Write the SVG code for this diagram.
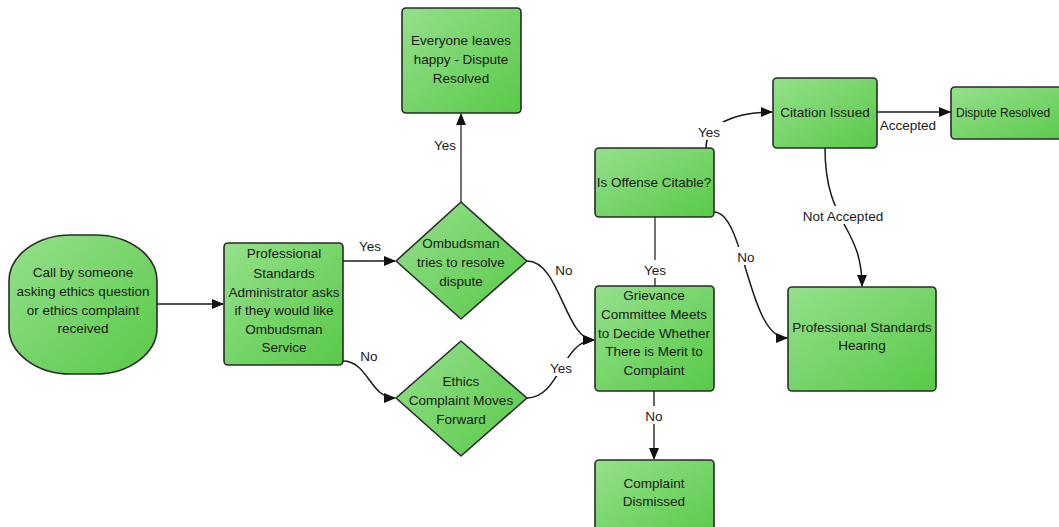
<svg xmlns="http://www.w3.org/2000/svg" width="1059" height="527" viewBox="0 0 1059 527">
<defs>
<linearGradient id="g" x1="0" y1="0" x2="1" y2="1">
<stop offset="0" stop-color="#95e08b"/>
<stop offset="1" stop-color="#58c948"/>
</linearGradient>
<marker id="arr" markerWidth="12" markerHeight="10" refX="11" refY="5" orient="auto" markerUnits="userSpaceOnUse">
<path d="M0,0 L12,5 L0,10 Z" fill="#111"/>
</marker>
<style>
.n{fill:url(#g);stroke:#2a2a2a;stroke-width:1.6}
.t{font-family:"Liberation Sans",Arial,sans-serif;font-size:13.5px;fill:#1a1a1a;text-anchor:middle}
.c{fill:none;stroke:#1a1a1a;stroke-width:1.5}
.a{marker-end:url(#arr)}
.lb{fill:#fff}
</style>
</defs>
<rect width="1059" height="527" fill="#fff"/>
<g id="connectors">
<path class="c a" d="M157,304 L223,304"/>
<path class="c a" d="M343,261 L395,261"/>
<path class="c a" d="M343,361 C368,361 370,398 395,398"/>
<path class="c a" d="M527,261 C560,261 565,340 594,340"/>
<path class="c a" d="M527,398 C560,398 562,340 594,340"/>
<path class="c a" d="M461,202 L461,114" style="stroke:#444"/>
<path class="c a" d="M654,391 L654,459" style="stroke:#333"/>
<path class="c" d="M655,217 L655,286" style="stroke:#444"/>
<path class="c a" d="M706,148 C706,124 735,112 772,112"/>
<path class="c a" d="M877,112 L950,112"/>
<path class="c a" d="M825,148 C825,225 862,225 862,286"/>
<path class="c a" d="M714,212 C745,212 748,338 787,338"/>
<rect class="lb" x="430" y="135" width="30" height="18"/>
<rect class="lb" x="640" y="406" width="28" height="18"/>
<rect class="lb" x="640" y="260" width="30" height="18"/>
<rect class="lb" x="694" y="122" width="30" height="18"/>
<rect class="lb" x="802" y="206" width="82" height="18"/>
<rect class="lb" x="733" y="247" width="26" height="18"/>
<rect class="lb" x="546" y="358" width="30" height="18"/>
<text class="t" x="370" y="251">Yes</text>
<text class="t" x="369" y="361">No</text>
<text class="t" x="564" y="275">No</text>
<text class="t" x="561" y="373">Yes</text>
<text class="t" x="445" y="150">Yes</text>
<text class="t" x="655" y="275">Yes</text>
<text class="t" x="654" y="421">No</text>
<text class="t" x="709" y="137">Yes</text>
<text class="t" x="908" y="130">Accepted</text>
<text class="t" x="843" y="221">Not Accepted</text>
<text class="t" x="746" y="262">No</text>
</g>
<g id="start">
<rect class="n" x="9" y="235" width="148" height="139" rx="62" ry="46"/>
<text class="t" x="83" y="277">Call by someone</text>
<text class="t" x="83" y="296">asking ethics question</text>
<text class="t" x="83" y="315">or ethics complaint</text>
<text class="t" x="83" y="333">received</text>
</g>
<g id="psa">
<rect class="n" x="224" y="243" width="119" height="122" rx="4"/>
<text class="t" x="284" y="258">Professional</text>
<text class="t" x="284" y="278">Standards</text>
<text class="t" x="284" y="297">Administrator asks</text>
<text class="t" x="284" y="315">if they would like</text>
<text class="t" x="284" y="334">Ombudsman</text>
<text class="t" x="284" y="352">Service</text>
</g>
<g id="ombudsman">
<path class="n" d="M461,202 L527,261 L461,319 L396,261 Z" stroke-linejoin="round"/>
<text class="t" x="461" y="248">Ombudsman</text>
<text class="t" x="461" y="267">tries to resolve</text>
<text class="t" x="461" y="286">dispute</text>
</g>
<g id="ethics">
<path class="n" d="M461,341 L527,398 L461,456 L396,398 Z" stroke-linejoin="round"/>
<text class="t" x="461" y="386">Ethics</text>
<text class="t" x="461" y="405">Complaint Moves</text>
<text class="t" x="461" y="424">Forward</text>
</g>
<g id="everyone">
<rect class="n" x="402" y="8" width="119" height="105" rx="4"/>
<text class="t" x="461" y="45">Everyone leaves</text>
<text class="t" x="461" y="64">happy - Dispute</text>
<text class="t" x="461" y="83">Resolved</text>
</g>
<g id="grievance">
<rect class="n" x="595" y="286" width="119" height="105" rx="4"/>
<text class="t" x="654" y="300">Grievance</text>
<text class="t" x="654" y="319">Committee Meets</text>
<text class="t" x="654" y="338">to Decide Whether</text>
<text class="t" x="654" y="356">There is Merit to</text>
<text class="t" x="654" y="375">Complaint</text>
</g>
<g id="dismissed">
<rect class="n" x="595" y="460" width="119" height="80" rx="4"/>
<text class="t" x="654" y="488">Complaint</text>
<text class="t" x="654" y="506">Dismissed</text>
</g>
<g id="citable">
<rect class="n" x="595" y="148" width="119" height="69" rx="4"/>
<text class="t" x="654" y="187">Is Offense Citable?</text>
</g>
<g id="citation">
<rect class="n" x="773" y="78" width="104" height="70" rx="4"/>
<text class="t" x="825" y="117">Citation Issued</text>
</g>
<g id="resolved">
<rect class="n" x="951" y="87" width="125" height="52" rx="4"/>
<text class="t" x="956" y="117" style="text-anchor:start;font-size:12px">Dispute Resolved</text>
</g>
<g id="hearing">
<rect class="n" x="788" y="287" width="148" height="104" rx="4"/>
<text class="t" x="862" y="332">Professional Standards</text>
<text class="t" x="862" y="350">Hearing</text>
</g>
</svg>
